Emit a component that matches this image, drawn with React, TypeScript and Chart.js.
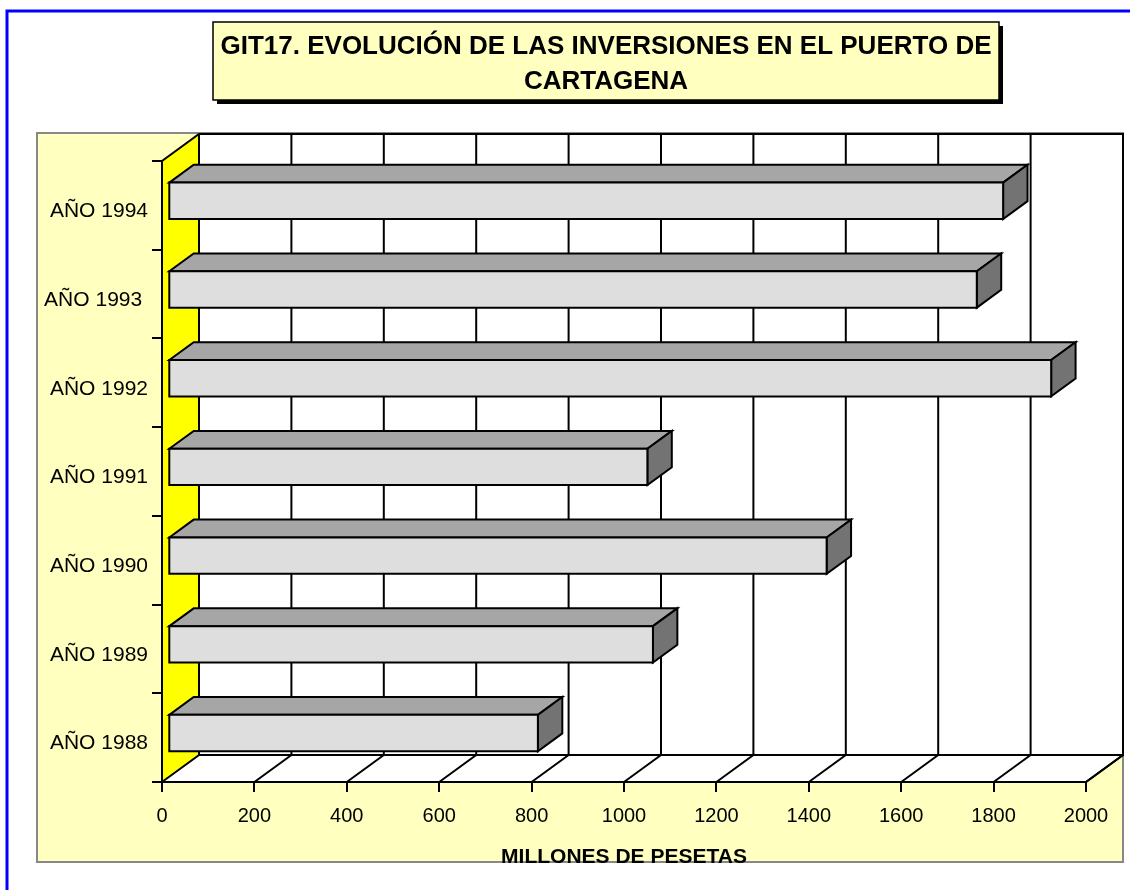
import React, { useEffect, useRef } from 'react';
import { Chart, registerables } from 'chart.js';

Chart.register(...registerables);

// ---- data ----
const categories = ['AÑO 1988', 'AÑO 1989', 'AÑO 1990', 'AÑO 1991', 'AÑO 1992', 'AÑO 1993 ', 'AÑO 1994'];
const investments = [800, 1049, 1425, 1037, 1911, 1750, 1807];
const axisMin = 0;
const axisMax = 2000;
const axisStep = 200;
const titleLines = ['GIT17. EVOLUCIÓN DE LAS INVERSIONES EN EL PUERTO DE', 'CARTAGENA'];
const axisTitle = 'MILLONES DE PESETAS';

// ---- style ----
const W = 1130;
const H = 890;
const FONT = "'Liberation Sans', Arial, sans-serif";
const DEPTH_X = 37;
const DEPTH_Y = -27;
const BAR_FRONT = 0.17;
const BAR_BACK = 0.83;
const PALE = '#FFFFC0';

const plot3d = {
  id: 'plot3d',
  beforeDraw(chart: any) {
    const ctx: CanvasRenderingContext2D = chart.ctx;
    const { left, right, top, bottom } = chart.chartArea;
    const xs = chart.scales.x;
    ctx.save();
    ctx.fillStyle = '#FFFFFF';
    ctx.fillRect(0, 0, W, H);

    // blue frame
    ctx.strokeStyle = '#0000FF';
    ctx.lineWidth = 3;
    ctx.beginPath();
    ctx.moveTo(7, H + 5);
    ctx.lineTo(7, 11);
    ctx.lineTo(W + 5, 11);
    ctx.stroke();

    // chart area
    const caL = 37, caT = top + DEPTH_Y - 1, caR = right + DEPTH_X, caB = 862;
    ctx.fillStyle = PALE;
    ctx.fillRect(caL, caT, caR - caL, caB - caT);
    ctx.strokeStyle = '#888888';
    ctx.lineWidth = 2;
    ctx.strokeRect(caL, caT, caR - caL, caB - caT);

    // title box
    const tL = 213, tT = 22, tW = 786, tH = 78;
    ctx.fillStyle = '#000000';
    ctx.fillRect(tL + 4, tT + 4, tW, tH);
    ctx.fillStyle = PALE;
    ctx.fillRect(tL, tT, tW, tH);
    ctx.strokeStyle = '#000000';
    ctx.lineWidth = 1.5;
    ctx.strokeRect(tL, tT, tW, tH);
    ctx.fillStyle = '#000000';
    ctx.font = `bold 26px ${FONT}`;
    ctx.textAlign = 'center';
    ctx.textBaseline = 'middle';
    ctx.fillText(titleLines[0], tL + tW / 2, 47);
    ctx.fillText(titleLines[1], tL + tW / 2, 82);

    // side wall (yellow)
    ctx.fillStyle = '#FFFF00';
    ctx.beginPath();
    ctx.moveTo(left, top);
    ctx.lineTo(left + DEPTH_X, top + DEPTH_Y);
    ctx.lineTo(left + DEPTH_X, bottom + DEPTH_Y);
    ctx.lineTo(left, bottom);
    ctx.closePath();
    ctx.fill();

    // back wall
    ctx.fillStyle = '#FFFFFF';
    ctx.fillRect(left + DEPTH_X, top + DEPTH_Y, right - left, bottom - top);

    // floor
    ctx.beginPath();
    ctx.moveTo(left, bottom);
    ctx.lineTo(right, bottom);
    ctx.lineTo(right + DEPTH_X, bottom + DEPTH_Y);
    ctx.lineTo(left + DEPTH_X, bottom + DEPTH_Y);
    ctx.closePath();
    ctx.fill();

    // grid lines
    ctx.strokeStyle = '#000000';
    ctx.lineWidth = 2;
    ctx.lineCap = 'butt';
    ctx.lineJoin = 'miter';
    for (let v = axisMin; v <= axisMax; v += axisStep) {
      const px = xs.getPixelForValue(v);
      ctx.beginPath();
      ctx.moveTo(px, bottom);
      ctx.lineTo(px + DEPTH_X, bottom + DEPTH_Y);
      ctx.lineTo(px + DEPTH_X, top + DEPTH_Y);
      ctx.stroke();
    }

    // outlines
    ctx.beginPath();
    ctx.moveTo(left, bottom);
    ctx.lineTo(left, top);
    ctx.lineTo(left + DEPTH_X, top + DEPTH_Y);
    ctx.lineTo(right + DEPTH_X, top + DEPTH_Y);
    ctx.lineTo(right + DEPTH_X, bottom + DEPTH_Y);
    ctx.lineTo(right, bottom);
    ctx.closePath();
    ctx.stroke();
    ctx.beginPath();
    ctx.moveTo(left + DEPTH_X, top + DEPTH_Y);
    ctx.lineTo(left + DEPTH_X, bottom + DEPTH_Y);
    ctx.lineTo(right + DEPTH_X, bottom + DEPTH_Y);
    ctx.stroke();
    ctx.restore();
  },
  afterDatasetsDraw(chart: any) {
    const ctx: CanvasRenderingContext2D = chart.ctx;
    const meta = chart.getDatasetMeta(0);
    const fx = DEPTH_X * BAR_FRONT, fy = DEPTH_Y * BAR_FRONT;
    const bx = DEPTH_X * BAR_BACK, by = DEPTH_Y * BAR_BACK;
    ctx.save();
    ctx.strokeStyle = '#000000';
    ctx.lineWidth = 2;
    ctx.lineJoin = 'miter';
    meta.data.forEach((el: any) => {
      const p = el.getProps(['x', 'y', 'base', 'height'], true);
      const x0 = p.base, x1 = p.x;
      const t = p.y - p.height / 2, b = p.y + p.height / 2;
      // top face
      ctx.fillStyle = '#A6A6A6';
      ctx.beginPath();
      ctx.moveTo(x0 + fx, t + fy);
      ctx.lineTo(x0 + bx, t + by);
      ctx.lineTo(x1 + bx, t + by);
      ctx.lineTo(x1 + fx, t + fy);
      ctx.closePath();
      ctx.fill();
      ctx.stroke();
      // end face
      ctx.fillStyle = '#737373';
      ctx.beginPath();
      ctx.moveTo(x1 + fx, t + fy);
      ctx.lineTo(x1 + bx, t + by);
      ctx.lineTo(x1 + bx, b + by);
      ctx.lineTo(x1 + fx, b + fy);
      ctx.closePath();
      ctx.fill();
      ctx.stroke();
      // front face
      ctx.fillStyle = '#DEDEDE';
      ctx.beginPath();
      ctx.rect(x0 + fx, t + fy, x1 - x0, b - t);
      ctx.fill();
      ctx.stroke();
    });
    ctx.restore();
  },
};

export default function App() {
  const canvasRef = useRef<HTMLCanvasElement | null>(null);
  useEffect(() => {
    if (!canvasRef.current) return;
    const chart = new Chart(canvasRef.current, {
      type: 'bar',
      data: {
        labels: categories,
        datasets: [
          {
            data: investments,
            backgroundColor: 'rgba(0,0,0,0)',
            borderWidth: 0,
            barPercentage: 0.41,
            categoryPercentage: 1,
          },
        ],
      },
      options: {
        indexAxis: 'y',
        animation: false,
        responsive: false,
        devicePixelRatio: 1,
        layout: { padding: { left: 0, top: 161, right: 44, bottom: 0 } },
        plugins: {
          legend: { display: false },
          tooltip: { enabled: false },
          title: { display: false },
        },
        scales: {
          x: {
            type: 'linear',
            min: axisMin,
            max: axisMax,
            ticks: {
              stepSize: axisStep,
              color: '#000000',
              font: { family: FONT, size: 20 },
              padding: 12,
              maxRotation: 0,
              autoSkip: false,
              callback: (v: any) => String(v),
            },
            grid: { drawOnChartArea: false, drawTicks: true, tickLength: 10, color: '#000000', lineWidth: 2 },
            border: { display: false },
            title: {
              display: true,
              text: axisTitle,
              color: '#000000',
              font: { family: FONT, size: 21, weight: 'bold' },
              padding: { top: 0, bottom: 20 },
            },
            afterFit: (s: any) => {
              s.height = 108;
            },
          },
          y: {
            type: 'category',
            reverse: true,
            offset: true,
            ticks: {
              color: '#000000',
              font: { family: FONT, size: 21 },
              padding: 4,
              labelOffset: 6,
              autoSkip: false,
            },
            grid: { drawOnChartArea: false, drawTicks: true, tickLength: 10, color: '#000000', lineWidth: 2, offset: true },
            border: { display: false },
            afterFit: (s: any) => {
              s.width = 162;
            },
          },
        },
      } as any,
      plugins: [plot3d],
    });
    return () => chart.destroy();
  }, []);

  return (
    <div style={{ position: 'absolute', left: 0, top: 0, width: W, height: H }}>
      <canvas ref={canvasRef} width={W} height={H} style={{ display: 'block' }} />
    </div>
  );
}
